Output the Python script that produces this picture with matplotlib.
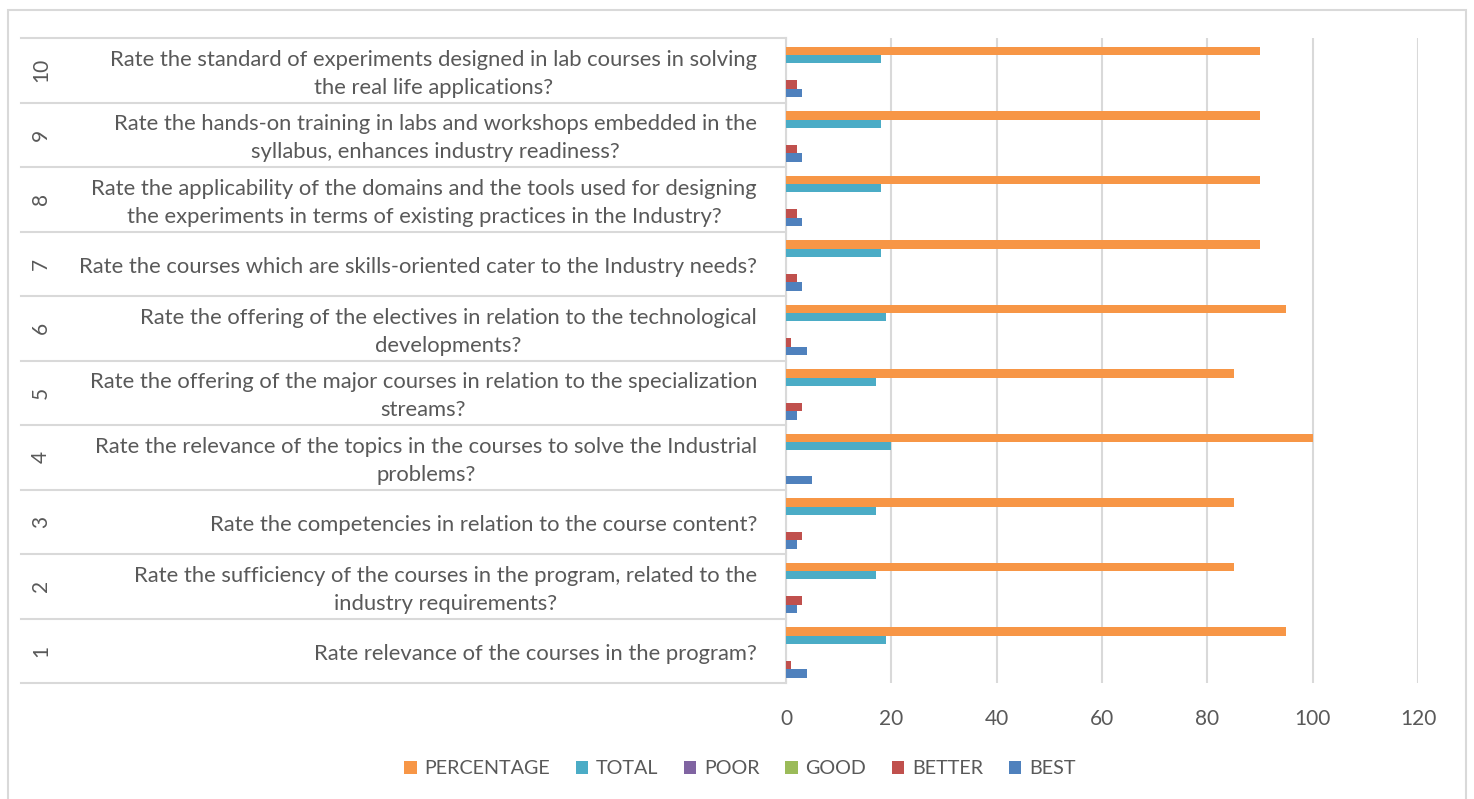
import matplotlib
matplotlib.use("Agg")
import matplotlib.pyplot as plt
import matplotlib.transforms as mtransforms
from matplotlib.patches import Patch, Rectangle

# survey data (question 1 at bottom)
question_no = [1, 2, 3, 4, 5, 6, 7, 8, 9, 10]
questions = [
    "Rate relevance of the courses in the program?",
    "Rate the sufficiency of the courses in the program, related to the\nindustry requirements?",
    "Rate the competencies in relation to the course content?",
    "Rate the relevance of the topics in the courses to solve the Industrial\nproblems?",
    "Rate the offering of the major courses in relation to the specialization\nstreams?",
    "Rate the offering of the electives in relation to the technological\ndevelopments?",
    "Rate the courses which are skills-oriented cater to the Industry needs?",
    "Rate the applicability of the domains and the tools used for designing\nthe experiments in terms of existing practices in the Industry?",
    "Rate the hands-on training in labs and workshops embedded in the\nsyllabus, enhances industry readiness?",
    "Rate the standard of experiments designed in lab courses in solving\nthe real life applications?",
]
best = [4, 2, 2, 5, 2, 4, 3, 3, 3, 3]
better = [1, 3, 3, 0, 3, 1, 2, 2, 2, 2]
good = [0, 0, 0, 0, 0, 0, 0, 0, 0, 0]
poor = [0, 0, 0, 0, 0, 0, 0, 0, 0, 0]
total = [19, 17, 17, 20, 17, 19, 18, 18, 18, 18]
percentage = [95, 85, 85, 100, 85, 95, 90, 90, 90, 90]

series = [
    ("BEST", best, "#4F81BD"),
    ("BETTER", better, "#C0504D"),
    ("GOOD", good, "#9BBB59"),
    ("POOR", poor, "#8064A2"),
    ("TOTAL", total, "#4BACC6"),
    ("PERCENTAGE", percentage, "#F79646"),
]

plt.rcParams['font.family'] = ['Lato', 'DejaVu Sans']
TXT = "#595959"
GRID = "#D9D9D9"

W, H = 1474, 799
fig = plt.figure(figsize=(W / 100, H / 100), dpi=100)
ax = fig.add_axes([786 / W, 1 - 683 / H, (1418 - 786) / W, (683 - 38) / H])

bh = 0.13
ypos = list(range(len(question_no)))
for i, (name, vals, col) in enumerate(series):
    off = (i - 2.5) * bh - 0.025
    ax.barh([y + off for y in ypos], vals, height=bh, color=col, zorder=3)

ax.set_xlim(0, 120)
ax.set_ylim(-0.5, len(question_no) - 0.5)
ax.set_xticks(range(0, 121, 20))
ax.tick_params(axis='x', length=0, colors=TXT, labelsize=15, pad=19)
ax.set_yticks([])
ax.grid(axis='x', color=GRID, linewidth=1.5, zorder=0)
for s in ['top', 'right', 'bottom']:
    ax.spines[s].set_visible(False)
ax.spines['left'].set_color(GRID)
ax.spines['left'].set_linewidth(1.5)

# multi-level category labels on the left
tr = mtransforms.blended_transform_factory(ax.transAxes, ax.transData)
x_left = (21 - 786) / (1418 - 786)
for k in range(len(question_no) + 1):
    ax.plot([x_left, 0], [k - 0.5, k - 0.5], color=GRID, lw=1.5,
            transform=tr, clip_on=False)
x_num = (41 - 786) / (1418 - 786)
x_txt = (757 - 786) / (1418 - 786)
for y, n, q in zip(ypos, question_no, questions):
    ax.text(x_num, y, str(n), rotation=90, ha='center', va='center',
            color=TXT, fontsize=15, transform=tr)
    ax.text(x_txt, y - 0.055, q, ha='right', va='center', multialignment='center',
            color=TXT, fontsize=15.8, linespacing=1.5, transform=tr)

# legend
handles = [Patch(facecolor=c, label=n) for n, _, c in reversed(series)]
fig.legend(handles=handles, loc='center', bbox_to_anchor=(740 / W, 1 - 769 / H),
           ncol=6, frameon=False, fontsize=14.2, labelcolor=TXT,
           handlelength=0.62, handleheight=0.62, handletextpad=0.4,
           columnspacing=1.3)

# chart border
fig.patches.append(Rectangle((8 / W, -0.02), (1466 - 8) / W, 1.02 - 10 / H,
                             transform=fig.transFigure, fill=False,
                             edgecolor=GRID, lw=1.5))

fig.savefig("out.png", dpi=100, facecolor='white')
